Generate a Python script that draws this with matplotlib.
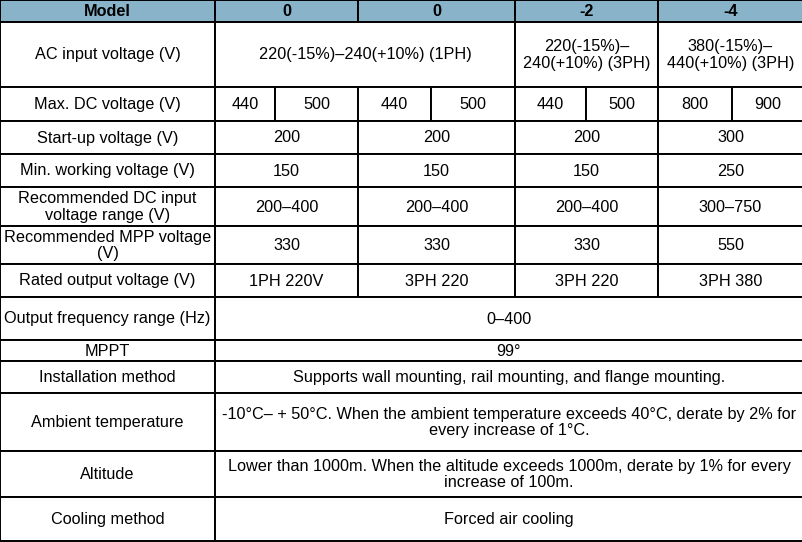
import matplotlib
matplotlib.use("Agg")
import matplotlib.pyplot as plt
from matplotlib.patches import Rectangle

models = ["Model", "0", "0", "-2", "-4"]
row_labels = ["AC input voltage (V)", "Max. DC voltage (V)", "Start-up voltage (V)",
              "Min. working voltage (V)", "Recommended DC input\nvoltage range (V)",
              "Recommended MPP voltage\n(V)", "Rated output voltage (V)",
              "Output frequency range (Hz)", "MPPT", "Installation method",
              "Ambient temperature", "Altitude", "Cooling method"]
ac_input = ["220(-15%)–240(+10%) (1PH)", "220(-15%)–\n240(+10%) (3PH)", "380(-15%)–\n440(+10%) (3PH)"]
max_dc = ["440", "500", "440", "500", "440", "500", "800", "900"]
startup = ["200", "200", "200", "300"]
min_work = ["150", "150", "150", "250"]
dc_range = ["200–400", "200–400", "200–400", "300–750"]
mpp = ["330", "330", "330", "550"]
rated_out = ["1PH 220V", "3PH 220", "3PH 220", "3PH 380"]
freq = "0–400"
mppt = "99°"
install = "Supports wall mounting, rail mounting, and flange mounting."
ambient = "-10°C– + 50°C. When the ambient temperature exceeds 40°C, derate by 2% for\nevery increase of 1°C."
altitude = "Lower than 1000m. When the altitude exceeds 1000m, derate by 1% for every\nincrease of 100m."
cooling = "Forced air cooling"

W, H = 803, 542
col = [0, 215, 358, 515, 658, 803]
sub = [0, 215, 275, 358, 431, 515, 586, 658, 732, 803]
rows = [0, 22, 87, 121, 154, 187, 226, 264, 297, 340, 361, 393, 451, 497, 541]

fig = plt.figure(figsize=(W / 100, H / 100), dpi=100)
ax = fig.add_axes([0, 0, 1, 1])
ax.set_xlim(0, W)
ax.set_ylim(H, 0)
ax.axis("off")
FONT = dict(family="Liberation Sans", fontsize=11.7, color="black", ha="center", va="center", linespacing=1.1)

def cell(x0, x1, y0, y1, text, bold=False, fill="white"):
    ax.add_patch(Rectangle((x0, y0), x1 - x0, y1 - y0, facecolor=fill, edgecolor="black", lw=1.4))
    ax.text((x0 + x1) / 2, (y0 + y1) / 2 + 0.5, text, fontweight="bold" if bold else "normal", **FONT)

for i, m in enumerate(models):
    cell(col[i], col[i + 1], rows[0], rows[1], m, bold=True, fill="#88b3c8")
for r, lab in enumerate(row_labels):
    cell(0, col[1], rows[r + 1], rows[r + 2], lab)
cell(col[1], col[3], rows[1], rows[2], ac_input[0])
cell(col[3], col[4], rows[1], rows[2], ac_input[1])
cell(col[4], col[5], rows[1], rows[2], ac_input[2])
for i, v in enumerate(max_dc):
    cell(sub[i + 1], sub[i + 2], rows[2], rows[3], v)
for r, vals in zip([3, 4, 5, 6, 7], [startup, min_work, dc_range, mpp, rated_out]):
    for i, v in enumerate(vals):
        cell(col[i + 1], col[i + 2], rows[r], rows[r + 1], v)
for r, v in zip([8, 9, 10, 11, 12, 13], [freq, mppt, install, ambient, altitude, cooling]):
    cell(col[1], col[5], rows[r], rows[r + 1], v)

fig.savefig("out.png", dpi=100)
